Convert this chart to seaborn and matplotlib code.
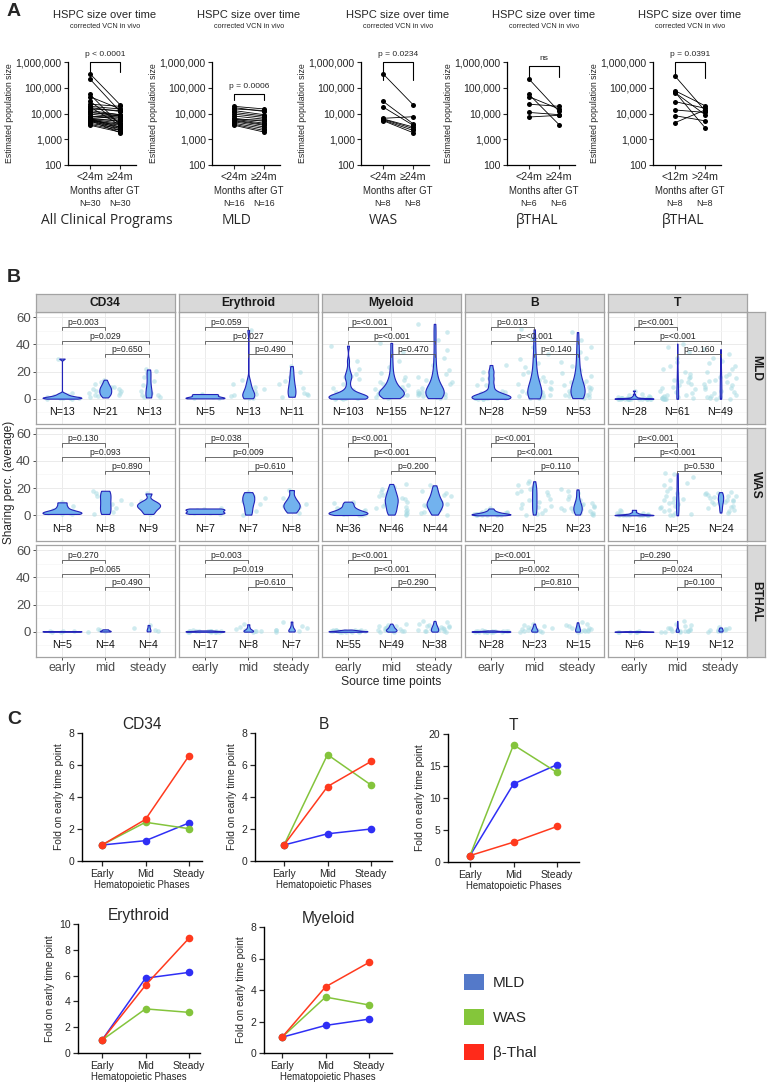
import numpy as np
import pandas as pd
import matplotlib
matplotlib.use("Agg")
import matplotlib.pyplot as plt
from matplotlib.patches import Patch
from matplotlib.ticker import FixedLocator, FuncFormatter, NullLocator
import seaborn as sns

W, H = 769, 1084

# ---------------- panel A: estimated HSPC population size (paired) ----------------
a_mld_lt24 = [19000, 17000, 15000, 13000, 11000, 9500, 8000, 6500, 6000, 5800, 5500, 5200, 4800, 4200, 3800, 3500]
a_mld_ge24 = [15000, 12000, 13000, 9000, 8000, 7000, 6000, 5000, 4200, 5500, 3800, 3500, 3000, 2600, 2200, 1900]
a_was_lt24 = [350000, 30000, 18000, 6500, 6200, 6000, 5600, 5300]
a_was_ge24 = [22000, 4000, 3500, 7500, 3000, 2600, 2200, 1800]
a_thal_lt24 = [218000, 55000, 45000, 23000, 11000, 7300]
a_thal_ge24 = [12000, 3700, 15000, 19000, 9000, 8500]
a_thal_lt12 = [286000, 77000, 68000, 65000, 29000, 13700, 8200, 4400]
a_thal_gt24 = [13000, 20000, 2800, 9000, 16000, 11000, 5200, 13700]

a_programs = ["All Clinical Programs", "MLD", "WAS", "βTHAL", "βTHAL"]
a_time_labels = [["<24m", "≥24m"], ["<24m", "≥24m"], ["<24m", "≥24m"], ["<24m", "≥24m"], ["<12m", ">24m"]]
a_pvalues = ["p < 0.0001", "p = 0.0006", "p = 0.0234", "ns", "p = 0.0391"]
a_n = [30, 16, 8, 6, 8]

# ---------------- panel B: sharing percentage per lineage / disease ----------------
b_lineages = ["CD34", "Erythroid", "Myeloid", "B", "T"]
b_diseases = ["MLD", "WAS", "BTHAL"]
b_times = ["early", "mid", "steady"]

b_mld_cd34 = [[0.1, 0.2, 0.4, 0.5, 0.7, 0.9, 1.1, 1.4, 1.8, 2.3, 3.0, 4.0, 29.5],
              [1.0, 1.8, 2.5, 3.0, 3.5, 4.0, 4.5, 5.0, 5.5, 6.0, 6.5, 7.0, 7.5, 8.0, 8.5, 9.0, 9.5, 10.5, 11.5, 12.5, 14.0],
              [1.0, 1.5, 2.5, 3.0, 4.0, 6.0, 8.0, 10.0, 13.0, 16.0, 19.0, 20.5, 21.5]]
b_mld_ery = [[0.3, 0.6, 1.0, 2.8, 3.5],
             [0.4, 0.8, 1.2, 2.0, 2.8, 3.5, 4.5, 5.5, 7.0, 9.0, 11.0, 14.0, 50.5],
             [1.5, 2.5, 3.5, 4.5, 6.0, 8.0, 10.5, 13.0, 16.0, 20.0, 24.0]]
b_mld_mye = [[0.1, 0.2, 0.3, 0.4, 0.5, 0.6, 0.7, 0.8, 0.9, 1.0, 1.1, 1.2, 1.3, 1.5, 1.7, 1.9, 2.1, 2.4, 2.7, 3.0,
              3.5, 4.0, 5.0, 6.5, 8.0, 11.0, 14.5, 16.0, 17.0, 18.5, 22.0, 28.0, 39.0],
             [0.5, 1.0, 1.5, 2.0, 2.3, 2.6, 3.0, 3.3, 3.6, 4.0, 4.3, 4.6, 5.0, 5.5, 6.0, 6.5, 7.0, 8.0, 9.0, 10.0,
              11.0, 12.5, 14.0, 16.0, 19.0, 23.0, 28.0, 34.0, 41.0],
             [0.5, 1.0, 1.5, 2.0, 2.5, 3.0, 3.3, 3.6, 4.0, 4.3, 4.6, 5.0, 5.5, 6.0, 6.5, 7.0, 8.0, 9.0, 10.0, 11.0,
              12.5, 14.0, 16.0, 18.0, 21.0, 25.0, 30.0, 36.0, 43.0, 49.0, 55.0]]
b_mld_b = [[0.0, 0.1, 0.2, 0.3, 0.4, 0.5, 0.6, 0.7, 0.9, 1.0, 1.2, 1.4, 1.6, 1.9, 2.2, 2.5, 3.0, 3.5, 4.0, 5.0,
            6.0, 9.8, 10.2, 14.8, 15.2, 19.8, 20.2, 24.8],
           [0.3, 0.6, 1.0, 1.5, 2.0, 2.5, 3.0, 3.5, 4.0, 4.5, 5.0, 5.5, 6.0, 7.0, 8.0, 9.0, 10.0, 11.0, 12.0, 13.0,
            14.0, 16.0, 18.0, 20.0, 23.0, 26.0, 29.0, 33.0, 38.0, 44.0, 51.0],
           [0.5, 1.0, 1.5, 2.0, 2.5, 3.0, 3.5, 4.0, 4.5, 5.0, 5.5, 6.0, 6.5, 7.0, 8.0, 9.0, 10.0, 11.0, 12.0, 13.0,
            14.0, 15.0, 17.0, 19.0, 21.0, 24.0, 27.0, 30.0, 34.0, 38.0, 43.0, 49.0]]
b_mld_t = [[0.0, 0.0, 0.0, 0.0, 0.0, 0.0, 0.0, 0.0, 0.0, 0.1, 0.1, 0.1, 0.2, 0.2, 0.2, 0.3, 0.3, 0.4, 0.5, 0.6,
            0.8, 1.0, 1.3, 1.6, 2.0, 2.6, 3.5, 6.0],
           [0.0, 0.0, 0.1, 0.2, 0.3, 0.5, 0.8, 1.0, 1.5, 2.0, 2.5, 3.0, 4.0, 5.0, 6.0, 7.0, 8.0, 9.0, 10.0, 11.0,
            12.0, 13.0, 14.0, 15.0, 16.0, 18.0, 20.0, 22.0, 24.0, 27.0, 30.0, 34.0, 38.0, 40.5],
           [0.0, 0.2, 0.5, 1.0, 1.5, 2.0, 3.0, 4.0, 5.0, 6.0, 7.0, 8.0, 9.0, 10.0, 11.0, 12.0, 13.0, 14.0, 15.0, 16.0,
            17.0, 18.0, 20.0, 22.0, 24.0, 26.0, 28.0, 30.0, 33.0, 36.5]]

b_was_cd34 = [[1.0, 1.2, 1.5, 2.0, 2.8, 4.0, 6.5, 9.5],
              [1.0, 2.5, 5.0, 8.0, 11.0, 14.0, 16.5, 18.0],
              [1.0, 3.0, 5.0, 6.0, 7.0, 8.0, 9.0, 10.5, 16.0]]
b_was_ery = [[1.0, 1.5, 2.0, 3.0, 4.0, 4.5, 5.0],
             [0.5, 3.5, 8.0, 10.5, 12.5, 14.5, 17.0],
             [2.0, 4.0, 6.0, 7.0, 8.5, 10.0, 13.0, 18.5]]
b_was_mye = [[0.2, 0.4, 0.6, 0.8, 1.0, 1.2, 1.4, 1.6, 1.8, 2.0, 2.3, 2.6, 3.0, 3.5, 4.0, 4.5, 5.0, 6.0, 7.0, 8.0,
              9.0, 10.0],
             [0.5, 1.0, 2.0, 3.0, 4.0, 5.0, 6.0, 7.0, 8.0, 9.0, 10.0, 10.5, 11.0, 11.5, 12.0, 13.0, 14.0, 15.0,
              16.0, 17.0, 18.0, 19.5, 21.0, 23.0],
             [0.5, 1.5, 2.5, 3.5, 4.5, 5.5, 6.5, 7.0, 7.5, 8.0, 8.5, 9.0, 9.5, 10.0, 11.0, 12.0, 13.0, 14.0, 15.0,
              16.5, 18.0, 20.0, 22.0]]
b_was_b = [[0.0, 0.1, 0.2, 0.3, 0.4, 0.5, 0.6, 0.7, 0.8, 1.0, 1.1, 1.3, 1.5, 1.7, 2.0, 2.3, 2.7, 3.2, 4.0, 5.0],
           [0.5, 1.0, 2.0, 3.0, 4.0, 5.0, 6.0, 7.0, 8.0, 9.0, 10.0, 11.0, 12.0, 13.0, 14.0, 15.0, 16.0, 17.0, 18.0,
            19.0, 20.0, 21.0, 22.0, 23.5, 25.0],
           [0.5, 1.0, 1.5, 2.0, 3.0, 3.5, 4.0, 4.5, 5.0, 5.5, 6.0, 6.5, 7.0, 7.5, 8.0, 9.0, 10.0, 11.0, 12.0, 14.0,
            16.0, 18.0, 19.0]]
b_was_t = [[0.0, 0.0, 0.0, 0.0, 0.1, 0.1, 0.2, 0.3, 0.4, 0.5, 0.7, 1.0, 1.5, 2.0, 3.0, 4.0],
           [0.0, 0.5, 1.0, 2.0, 3.0, 4.0, 5.0, 6.0, 7.0, 8.0, 9.0, 10.0, 11.0, 12.0, 13.0, 14.0, 16.0, 18.0, 20.0,
            22.0, 24.0, 26.0, 28.0, 30.0, 31.0],
           [2.0, 3.0, 4.0, 5.0, 6.0, 7.0, 8.0, 9.0, 9.5, 10.0, 10.5, 11.0, 11.5, 12.0, 12.5, 13.0, 13.5, 14.0, 14.5,
            15.0, 15.5, 16.0, 16.5, 17.0]]

b_thal_cd34 = [[0.1, 0.2, 0.3, 0.4, 0.5],
               [0.2, 0.5, 1.0, 1.8],
               [0.3, 1.0, 2.5, 5.0]]
b_thal_ery = [[0.0, 0.0, 0.1, 0.1, 0.2, 0.2, 0.3, 0.3, 0.4, 0.4, 0.5, 0.5, 0.6, 0.7, 0.8, 0.9, 1.0],
              [0.1, 0.3, 0.5, 0.8, 1.2, 2.0, 3.5, 5.5],
              [0.2, 0.5, 1.0, 1.5, 2.5, 4.5, 7.5]]
b_thal_mye = [[0.0, 0.1, 0.1, 0.2, 0.2, 0.3, 0.3, 0.4, 0.4, 0.5, 0.5, 0.6, 0.7, 0.8, 0.9, 1.0, 1.1, 1.2, 1.4, 1.6],
              [0.1, 0.2, 0.4, 0.6, 0.8, 1.0, 1.2, 1.4, 1.6, 1.8, 2.0, 2.3, 2.6, 3.0, 3.5, 4.0, 4.5, 5.0, 6.0],
              [0.1, 0.3, 0.5, 0.8, 1.0, 1.3, 1.6, 2.0, 2.4, 2.8, 3.2, 3.6, 4.0, 4.5, 5.0, 6.0, 7.0, 8.0]]
b_thal_b = [[0.0, 0.0, 0.1, 0.1, 0.1, 0.2, 0.2, 0.2, 0.3, 0.3, 0.4, 0.4, 0.5, 0.5, 0.6, 0.7, 0.8, 1.0],
            [0.1, 0.2, 0.4, 0.6, 0.8, 1.0, 1.3, 1.6, 2.0, 2.5, 3.0, 3.5, 4.0, 5.0, 6.0],
            [0.1, 0.3, 0.5, 0.8, 1.0, 1.5, 2.0, 2.5, 3.0, 3.5, 4.0, 5.0, 6.0, 7.0]]
b_thal_t = [[0.0, 0.0, 0.1, 0.1, 0.2, 0.3],
            [0.0, 0.1, 0.2, 0.3, 0.4, 0.5, 0.7, 0.9, 1.1, 1.4, 1.7, 2.0, 2.5, 3.0, 4.0, 5.0, 6.0, 8.0],
            [0.2, 0.5, 0.8, 1.0, 1.3, 1.6, 2.0, 2.4, 2.8, 3.2]]

b_n_mld = [[13, 21, 13], [5, 13, 11], [103, 155, 127], [28, 59, 53], [28, 61, 49]]
b_n_was = [[8, 8, 9], [7, 7, 8], [36, 46, 44], [20, 25, 23], [16, 25, 24]]
b_n_thal = [[5, 4, 4], [17, 8, 7], [55, 49, 38], [28, 23, 15], [6, 19, 12]]

b_p_mld = [["0.003", "0.029", "0.650"], ["0.059", "0.027", "0.490"], ["<0.001", "<0.001", "0.470"],
           ["0.013", "<0.001", "0.140"], ["<0.001", "<0.001", "0.160"]]
b_p_was = [["0.130", "0.093", "0.890"], ["0.038", "0.009", "0.610"], ["<0.001", "<0.001", "0.200"],
           ["<0.001", "<0.001", "0.110"], ["<0.001", "<0.001", "0.530"]]
b_p_thal = [["0.270", "0.065", "0.490"], ["0.003", "0.019", "0.610"], ["<0.001", "<0.001", "0.290"],
            ["<0.001", "0.002", "0.810"], ["0.290", "0.024", "0.100"]]

# ---------------- panel C: fold change on early time point ----------------
c_phases = ["Early", "Mid", "Steady"]
c_groups = ["MLD", "WAS", "β-Thal"]
c_cd34 = [[1.0, 1.27, 2.38], [1.0, 2.42, 2.02], [1.0, 2.6, 6.58]]
c_b = [[1.0, 1.7, 2.0], [1.0, 6.65, 4.75], [1.0, 4.65, 6.22]]
c_t = [[1.0, 12.2, 15.2], [1.0, 18.3, 14.0], [1.0, 3.1, 5.55]]
c_ery = [[1.0, 5.8, 6.25], [1.0, 3.42, 3.15], [1.0, 5.25, 8.9]]
c_mye = [[1.0, 1.75, 2.15], [1.0, 3.55, 3.05], [1.0, 4.2, 5.75]]

c_line_colors = ["#2f2ff5", "#84c43c", "#ff3a1e"]
c_legend_colors = ["#5479c9", "#84c63a", "#ff2a1a"]

sns.set_style("white")
plt.rcParams["font.family"] = ["Liberation Sans", "DejaVu Sans"]

fig = plt.figure(figsize=(W / 100, H / 100), dpi=100)


def px_axes(left, top, right, bottom):
    return fig.add_axes([left / W, 1 - bottom / H, (right - left) / W, (bottom - top) / H])


def px_text(x, y, s, **kw):
    kw.setdefault("ha", "center")
    kw.setdefault("va", "center")
    return fig.text(x / W, 1 - y / H, s, **kw)


def nrd0(kde):
    # R's bw.nrd0 so the violins look like ggplot's
    x = kde.dataset[0]
    sd = np.std(x, ddof=1)
    q75, q25 = np.percentile(x, [75, 25])
    spread = min(sd, (q75 - q25) / 1.34)
    if spread <= 0:
        spread = sd
    return 0.9 * spread * len(x) ** -0.2 / sd


# ================= A =================
px_text(7, 11, "A", fontsize=14, fontweight="bold", ha="left")
a_early = [a_mld_lt24 + a_was_lt24 + a_thal_lt24, a_mld_lt24, a_was_lt24, a_thal_lt24, a_thal_lt12]
a_late = [a_mld_ge24 + a_was_ge24 + a_thal_ge24, a_mld_ge24, a_was_ge24, a_thal_ge24, a_thal_gt24]
a_left = [68, 212, 361, 507, 653]
a_prog_x = [107, 237, 383, 537, 683]
a_bracket = [(4.0e5, 1.0e6), (3.4e4, 5.6e4), (2.0e5, 1.0e6), (2.6e5, 7.2e5), (2.3e5, 1.0e6)]

for i, left in enumerate(a_left):
    ax = px_axes(left, 62, left + 68, 165)
    t0, t1 = a_time_labels[i]
    n = len(a_early[i])
    df = pd.DataFrame({"subject": list(range(n)) * 2,
                       "time": [t0] * n + [t1] * n,
                       "size": a_early[i] + a_late[i]})
    sns.lineplot(data=df, x="time", y="size", units="subject", estimator=None, color="black",
                 linewidth=0.6, marker="o", markersize=3.6, markeredgewidth=0, ax=ax)
    ax.set_yscale("log")
    ax.set_ylim(100, 1e6)
    ax.set_xlim(-0.73, 1.53)
    ax.yaxis.set_major_locator(FixedLocator([1e2, 1e3, 1e4, 1e5, 1e6]))
    ax.yaxis.set_minor_locator(NullLocator())
    ax.yaxis.set_major_formatter(FuncFormatter(lambda v, p: f"{v:,.0f}"))
    for s in ["top", "right"]:
        ax.spines[s].set_visible(False)
    for s in ["left", "bottom"]:
        ax.spines[s].set_linewidth(0.9)
        ax.spines[s].set_color("black")
    ax.tick_params(axis="y", length=3, width=0.8, labelsize=7.6, pad=1.5, left=True)
    ax.tick_params(axis="x", length=3, width=0.8, labelsize=7.7, pad=2, bottom=True)
    ax.set_xlabel("")
    ax.set_ylabel("Estimated population size", fontsize=6.3, labelpad=1.5)
    lo, top = a_bracket[i]
    ax.plot([0, 0, 1, 1], [lo, top, top, lo], color="black", lw=0.8, clip_on=False)
    ax.text(0.5, top * 1.4, a_pvalues[i], ha="center", va="bottom", fontsize=6, clip_on=False)

    cx = left + 37
    px_text(cx, 15, "HSPC size over time", fontsize=8)
    px_text(cx, 26, "corrected VCN in vivo", fontsize=5.2)
    px_text(cx, 191, "Months after GT", fontsize=6.9)
    px_text(left + 22, 204, f"N={a_n[i]}", fontsize=6.4)
    px_text(left + 52, 204, f"N={a_n[i]}", fontsize=6.4)
    px_text(a_prog_x[i], 220, a_programs[i], fontsize=10, family=["Open Sans", "DejaVu Sans"])

# ================= B =================
px_text(7, 278, "B", fontsize=14, fontweight="bold", ha="left")
b_data = [[b_mld_cd34, b_mld_ery, b_mld_mye, b_mld_b, b_mld_t],
          [b_was_cd34, b_was_ery, b_was_mye, b_was_b, b_was_t],
          [b_thal_cd34, b_thal_ery, b_thal_mye, b_thal_b, b_thal_t]]
b_n = [b_n_mld, b_n_was, b_n_thal]
b_p = [b_p_mld, b_p_was, b_p_thal]
b_left = [36, 179, 322, 465, 608]
b_top = [312, 428.5, 545]
pw, ph = 138.5, 112
border = "#a3a3a3"
fill = "#72b2ee"
edge = "#2323b8"
dot = "#a8dbe3"
np.random.seed(7)

for r in range(3):
    for c in range(5):
        ax = px_axes(b_left[c], b_top[r], b_left[c] + pw, b_top[r] + ph)
        groups = b_data[r][c]
        df = pd.DataFrame({"time": [t for t, g in zip(b_times, groups) for _ in g],
                           "value": [v for g in groups for v in g]})
        sns.stripplot(data=df, x="time", y="value", order=b_times, color=dot, alpha=0.55,
                      size=3.3, jitter=0.4, linewidth=0, ax=ax, zorder=1)
        sns.violinplot(data=df, x="time", y="value", order=b_times, cut=0, density_norm="area",
                       width=0.9, inner=None, color=fill, linecolor=edge, linewidth=0.8,
                       saturation=1, bw_method=nrd0, ax=ax, zorder=2)
        ax.set_xlim(-0.6, 2.6)
        ax.set_ylim(-18.5, 63.7)
        ax.set_yticks([0, 20, 40, 60])
        ax.set_yticks([-10, 10, 30, 50], minor=True)
        ax.grid(which="major", color="#ebebeb", lw=0.7)
        ax.grid(which="minor", axis="y", color="#f5f5f5", lw=0.5)
        ax.set_axisbelow(True)
        for s in ax.spines.values():
            s.set_color(border)
            s.set_linewidth(0.9)
        ax.tick_params(axis="both", which="major", length=2.5, width=0.6, color="#333333",
                       labelcolor="#4d4d4d", pad=1.2)
        ax.tick_params(axis="y", labelsize=9.5, left=(c == 0), labelleft=(c == 0))
        ax.tick_params(axis="x", labelsize=9, bottom=(r == 2), labelbottom=(r == 2))
        ax.tick_params(which="minor", left=False, bottom=False)
        ax.set_xlabel("")
        ax.set_ylabel("")

        for i in range(3):
            ax.text(i, -10, f"N={b_n[r][c][i]}", ha="center", va="center", fontsize=7.7, color="#111111")
        pv = b_p[r][c]
        for (x0, x1), y, p in zip([(0, 1), (0, 2), (1, 2)], [52.7, 42.5, 32.7], pv):
            ax.plot([x0, x0, x1, x1], [y - 2.3, y, y, y - 2.3], color="#555555", lw=0.6)
            ax.text((x0 + x1) / 2, y + 0.1, "p=" + p, ha="center", va="bottom", fontsize=6.2,
                    color="#222222")

# facet strips
for c in range(5):
    sa = px_axes(b_left[c], 294, b_left[c] + pw, 312)
    sa.set_facecolor("#d9d9d9")
    sa.set_xticks([])
    sa.set_yticks([])
    for s in sa.spines.values():
        s.set_color(border)
        s.set_linewidth(0.9)
    sa.text(0.5, 0.5, b_lineages[c], ha="center", va="center", fontsize=8.7,
            fontweight="bold", color="#1a1a1a", transform=sa.transAxes)
for r in range(3):
    sa = px_axes(747, b_top[r], 765, b_top[r] + ph)
    sa.set_facecolor("#d9d9d9")
    sa.set_xticks([])
    sa.set_yticks([])
    for s in sa.spines.values():
        s.set_color(border)
        s.set_linewidth(0.9)
    sa.text(0.5, 0.5, b_diseases[r], ha="center", va="center", fontsize=8.7, rotation=-90,
            fontweight="bold", color="#1a1a1a", transform=sa.transAxes)

px_text(9, 482, "Sharing perc. (average)", fontsize=8.5, rotation=90)
px_text(391, 682, "Source time points", fontsize=8.7)

# ================= C =================
px_text(7, 720, "C", fontsize=14, fontweight="bold", ha="left")
c_panels = [("CD34", c_cd34, 82, 102, 202, 733, 861, 8, 2),
            ("B", c_b, 255, 284, 392, 733, 861, 8, 2),
            ("T", c_t, 448, 470, 579, 734, 862, 20, 5),
            ("Erythroid", c_ery, 78, 102, 200, 924, 1053, 10, 2),
            ("Myeloid", c_mye, 264, 282, 392, 927, 1053, 8, 2)]
step = 43.5

for name, vals, spine, first, end, top, bottom, ymax, ystep in c_panels:
    ax = px_axes(spine, top, end, bottom)
    df = pd.DataFrame({"phase": c_phases * 3,
                       "fold": [v for g in vals for v in g],
                       "group": [g for g in c_groups for _ in c_phases]})
    sns.pointplot(data=df, x="phase", y="fold", hue="group", order=c_phases, hue_order=c_groups,
                  palette=c_line_colors, errorbar=None, markers="o", markersize=5.5,
                  linewidth=1.1, markeredgewidth=0, legend=False, ax=ax)
    ax.set_xlim((spine - first) / step, (end - first) / step)
    ax.set_ylim(0, ymax)
    ax.set_yticks(np.arange(0, ymax + 1, ystep))
    for s in ["top", "right"]:
        ax.spines[s].set_visible(False)
    for s in ["left", "bottom"]:
        ax.spines[s].set_linewidth(1.0)
        ax.spines[s].set_color("black")
    ax.tick_params(axis="both", length=3.5, width=0.9, labelsize=7.5, pad=2, left=True, bottom=True)
    ax.set_title(name, fontsize=11.2, pad=3)
    ax.set_xlabel("Hematopoietic Phases", fontsize=6.9, labelpad=1)
    ax.set_ylabel("Fold on early time point", fontsize=7.4, labelpad=3)

handles = [Patch(facecolor=col, edgecolor="none") for col in c_legend_colors]
fig.legend(handles, c_groups, loc="center left", bbox_to_anchor=(450 / W, 1 - 1017 / H),
           frameon=False, fontsize=11, handlelength=1.3, handleheight=1.3, labelspacing=1.2,
           handletextpad=0.6)

fig.savefig("out.png", dpi=100)
